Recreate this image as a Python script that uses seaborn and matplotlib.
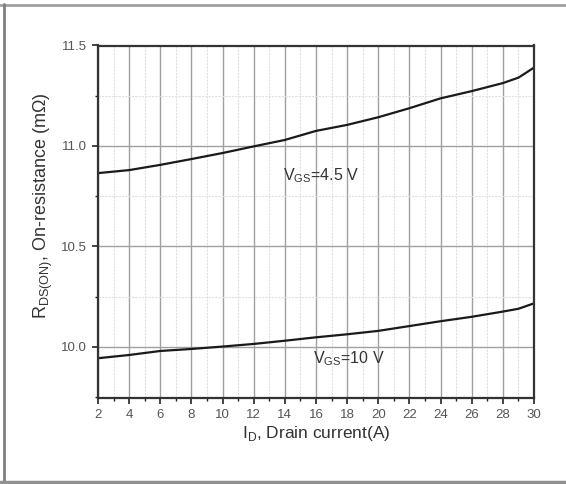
import numpy as np
import pandas as pd
import seaborn as sns
import matplotlib.pyplot as plt
from matplotlib.lines import Line2D
from matplotlib.ticker import MultipleLocator

# Data
current = [2, 4, 6, 8, 10, 12, 14, 16, 18, 20, 22, 24, 26, 28, 29, 30]
r_vgs45 = [10.865, 10.88, 10.906, 10.935, 10.965, 10.998, 11.03, 11.075, 11.105,
           11.143, 11.188, 11.237, 11.273, 11.313, 11.34, 11.39]
r_vgs10 = [9.944, 9.96, 9.98, 9.99, 10.002, 10.015, 10.031, 10.048, 10.063,
           10.08, 10.104, 10.128, 10.15, 10.176, 10.19, 10.217]
series_names = ["VGS=4.5 V", "VGS=10 V"]
x_ticks = list(range(2, 31, 2))
y_ticks = [10.0, 10.5, 11.0, 11.5]

df = pd.DataFrame({
    "ID": current * 2,
    "R": r_vgs45 + r_vgs10,
    "series": [series_names[0]] * len(current) + [series_names[1]] * len(current),
})

sns.set_theme(style="white")
plt.rcParams['font.family'] = ['Liberation Sans', 'DejaVu Sans']
plt.rcParams['mathtext.fontset'] = 'custom'
plt.rcParams['mathtext.rm'] = 'Liberation Sans'

fig = plt.figure(figsize=(5.66, 4.84), dpi=100)
ax = fig.add_axes([98 / 566, 1 - 398 / 484, (534 - 98) / 566, (398 - 45.5) / 484])

sns.lineplot(data=df, x="ID", y="R", units="series", estimator=None,
             color="#1a1a1a", linewidth=1.6, ax=ax, legend=False)

ax.set_xlim(2, 30)
ax.set_ylim(9.746, 11.5)
ax.set_xticks(x_ticks)
ax.set_yticks(y_ticks)
ax.set_yticklabels([f"{v:.1f}" for v in y_ticks])
ax.xaxis.set_minor_locator(MultipleLocator(1))
ax.yaxis.set_minor_locator(MultipleLocator(0.25))

ax.grid(which="major", color="#a0a0a0", linewidth=1.0)
ax.grid(which="minor", color="#e0e0e0", linewidth=0.8, linestyle=(0, (2, 1)))
ax.set_axisbelow(True)

for s in ax.spines.values():
    s.set_color("#333333")
    s.set_linewidth(1.6)

ax.tick_params(which="major", direction="out", length=4, width=1.2, color="#222222",
               labelsize=9.5, labelcolor="#555555", bottom=True, left=True, pad=4)
ax.tick_params(which="minor", direction="out", length=2, width=1.0, color="#222222",
               bottom=True, left=True)

ax.set_xlabel(r"I$_\mathregular{D}$, Drain current(A)", fontsize=12.5, color="#333333", labelpad=2)
ax.set_ylabel(r"R$_\mathregular{DS(ON)}$, On-resistance (m$\Omega$)", fontsize=13,
              color="#333333", va="center")
ax.yaxis.set_label_coords(-0.125, 0.545)

ax.text(13.9, 10.85, r"V$_\mathregular{GS}$=4.5 V", fontsize=11.5, color="#333333",
        ha="left", va="center")
ax.text(15.8, 9.94, r"V$_\mathregular{GS}$=10 V", fontsize=11.5, color="#333333",
        ha="left", va="center")

# outer frame lines (top, left, bottom)
fig.add_artist(Line2D([0, 1], [1 - 4.5 / 484] * 2, transform=fig.transFigure,
                      color="#a0a0a0", linewidth=2))
fig.add_artist(Line2D([3.5 / 566] * 2, [0, 1 - 4 / 484], transform=fig.transFigure,
                      color="#808080", linewidth=2))
fig.add_artist(Line2D([0, 1], [2 / 484] * 2, transform=fig.transFigure,
                      color="#909090", linewidth=2.5))

fig.savefig("out.png", dpi=100)
